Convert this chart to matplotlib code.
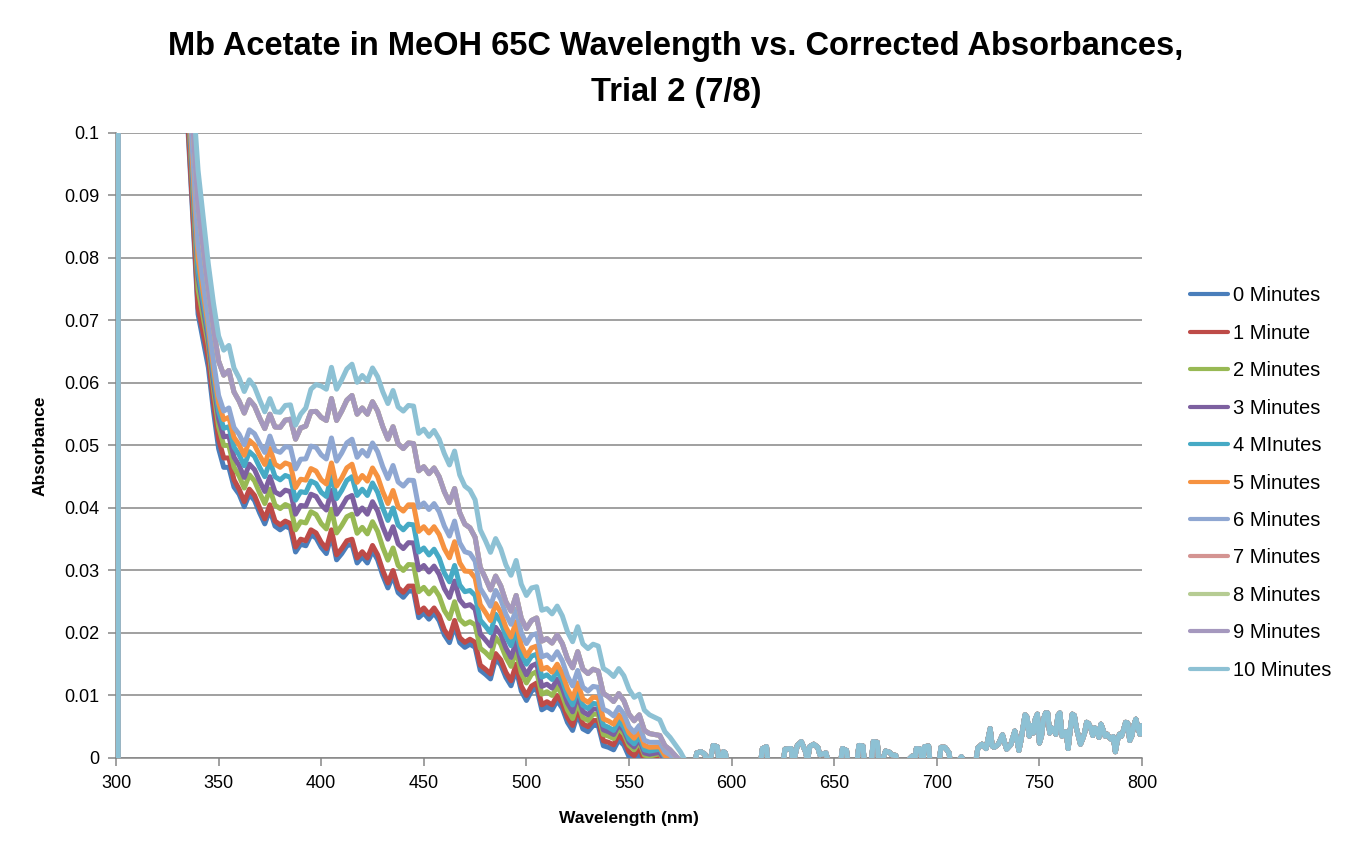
import matplotlib
matplotlib.use('Agg')
import matplotlib.pyplot as plt

# spectra: head below 335 nm (off scale), 335-575 nm read every 5 nm plus the
# dips in between (337.5-572.5 nm), tail 580-800 nm
head_wl = [301, 301.4, 310, 320, 330]
head_abs = [-0.05, 1.2, 0.6, 0.3, 0.15]

main_wl = list(range(335, 580, 5))
mid_wl = [w + 2.5 for w in range(335, 575, 5)]

min0 = [0.1010, 0.0710, 0.0625, 0.0495, 0.0465, 0.0422, 0.0422, 0.0392, 0.0397, 0.0365,
        0.0367, 0.0342, 0.0357, 0.0337, 0.0357, 0.0327, 0.0342, 0.0322, 0.0332, 0.0292,
        0.0292, 0.0257, 0.0267, 0.0232, 0.0232, 0.0197, 0.0212, 0.0177, 0.0177, 0.0134,
        0.0159, 0.0129, 0.0142, 0.0092, 0.0112, 0.0082, 0.0092, 0.0057, 0.0071, 0.0042,
        0.0052, 0.0017, 0.0029, 0.0002, 0.0009, -0.0013, -0.0008, -0.0023, -0.0033]
mid0 = [0.086, 0.06675, 0.0555, 0.0465, 0.04335, 0.0402, 0.0412, 0.03745, 0.0371, 0.0371,
        0.03295, 0.03395, 0.0352, 0.0327, 0.0317, 0.03395, 0.0312, 0.0312, 0.0317, 0.0272,
        0.02645, 0.0267, 0.02245, 0.0222, 0.02195, 0.01845, 0.01845, 0.0182, 0.01405, 0.01265,
        0.0149, 0.01155, 0.0107, 0.0107, 0.0077, 0.0077, 0.00795, 0.0044, 0.00465, 0.0052,
        0.00195, 0.0013, 0.00205, -0.00045, -0.0012, -0.00105, -0.00205, -0.0028]

min1 = [0.102, 0.072, 0.064, 0.051, 0.048, 0.043, 0.043, 0.040, 0.0405, 0.0373,
        0.0375, 0.035, 0.0365, 0.0345, 0.0365, 0.0335, 0.035, 0.033, 0.034, 0.030,
        0.030, 0.0265, 0.0275, 0.024, 0.024, 0.0205, 0.022, 0.0185, 0.0185, 0.0142,
        0.0167, 0.0137, 0.015, 0.010, 0.012, 0.009, 0.010, 0.0065, 0.0079, 0.005,
        0.006, 0.0025, 0.0037, 0.001, 0.0017, -0.0005, 0.0, -0.0015, -0.0025]
mid1 = [0.087, 0.068, 0.057, 0.048, 0.0445, 0.041, 0.042, 0.03825, 0.0379, 0.0379,
        0.03375, 0.03475, 0.036, 0.0335, 0.0325, 0.03475, 0.032, 0.032, 0.0325, 0.028,
        0.02725, 0.0275, 0.02325, 0.023, 0.02275, 0.01925, 0.01925, 0.019, 0.01485, 0.01345,
        0.0157, 0.01235, 0.0115, 0.0115, 0.0085, 0.0085, 0.00875, 0.0052, 0.00545, 0.006,
        0.00275, 0.0021, 0.00285, 0.00035, -0.0004, -0.00025, -0.00125, -0.002]

min2 = [0.105, 0.075, 0.066, 0.053, 0.050, 0.0451, 0.0453, 0.0424, 0.043, 0.0399,
        0.0402, 0.0378, 0.0394, 0.0375, 0.0398, 0.0372, 0.039, 0.0369, 0.0378, 0.0337,
        0.0336, 0.030, 0.0309, 0.0273, 0.0272, 0.0236, 0.025, 0.0214, 0.0213, 0.0169,
        0.0193, 0.0161, 0.0172, 0.012, 0.0138, 0.0106, 0.0114, 0.0077, 0.0089, 0.006,
        0.007, 0.0035, 0.0047, 0.002, 0.0026, 0.0003, 0.0007, -0.0009, -0.002]
mid2 = [0.090, 0.0705, 0.059, 0.050, 0.04655, 0.04318, 0.04433, 0.0407, 0.04045, 0.04055,
        0.0365, 0.0376, 0.03895, 0.03665, 0.036, 0.0386, 0.03595, 0.03585, 0.03625, 0.03165,
        0.0308, 0.03095, 0.0266, 0.02625, 0.0259, 0.0223, 0.02218, 0.0218, 0.01755, 0.01605,
        0.01818, 0.01465, 0.0136, 0.0134, 0.0102, 0.010, 0.01005, 0.0063, 0.00645, 0.007,
        0.00375, 0.0031, 0.00385, 0.0013, 0.00045, 0.0005, -0.0006, -0.00145]

min3 = [0.106, 0.077, 0.067, 0.0543, 0.0515, 0.0468, 0.047, 0.0443, 0.045, 0.0421,
        0.0426, 0.0404, 0.0422, 0.0405, 0.0428, 0.0402, 0.042, 0.040, 0.041, 0.037,
        0.037, 0.0335, 0.0344, 0.0308, 0.0307, 0.0271, 0.0283, 0.0243, 0.0238, 0.0189,
        0.0209, 0.0176, 0.0186, 0.0133, 0.0151, 0.0118, 0.0126, 0.0088, 0.010, 0.0069,
        0.0078, 0.0042, 0.0053, 0.0025, 0.003, 0.0006, 0.0009, -0.0008, -0.002]
mid3 = [0.0915, 0.072, 0.06013, 0.05138, 0.04813, 0.04488, 0.04613, 0.04263, 0.04255, 0.04285,
        0.039, 0.0403, 0.04185, 0.03967, 0.039, 0.04159, 0.039, 0.039, 0.0395, 0.035,
        0.03425, 0.03445, 0.0301, 0.02975, 0.02938, 0.02568, 0.0253, 0.02453, 0.01983, 0.0179,
        0.01973, 0.01608, 0.01497, 0.01472, 0.01145, 0.01118, 0.01118, 0.00738, 0.00743, 0.00785,
        0.0045, 0.00375, 0.0044, 0.00175, 0.0008, 0.00075, -0.00045, -0.0014]

min4 = [0.107, 0.078, 0.068, 0.0555, 0.053, 0.0485, 0.049, 0.0465, 0.0475, 0.0445,
        0.0449, 0.0426, 0.0443, 0.0425, 0.0452, 0.0428, 0.045, 0.043, 0.044, 0.040,
        0.040, 0.0365, 0.0373, 0.0336, 0.0334, 0.0296, 0.0308, 0.0266, 0.026, 0.0211,
        0.023, 0.0195, 0.0204, 0.015, 0.0166, 0.0133, 0.0139, 0.010, 0.011, 0.0079,
        0.0086, 0.0049, 0.0059, 0.003, 0.0035, 0.0011, 0.0014, -0.0003, -0.0015]
mid4 = [0.0925, 0.073, 0.06125, 0.05275, 0.04975, 0.04675, 0.04825, 0.045, 0.045, 0.0452,
        0.04125, 0.04245, 0.0439, 0.04184, 0.0415, 0.04442, 0.042, 0.042, 0.0425, 0.038,
        0.03725, 0.0374, 0.03295, 0.03248, 0.03198, 0.02818, 0.02768, 0.0268, 0.02205, 0.02003,
        0.02173, 0.01795, 0.0167, 0.0163, 0.01293, 0.01255, 0.0124, 0.00848, 0.00843, 0.00873,
        0.00525, 0.0044, 0.00495, 0.00225, 0.0013, 0.00125, 0.00005, -0.0009]

min5 = [0.108, 0.080, 0.069, 0.0568, 0.0545, 0.0501, 0.0508, 0.0484, 0.0495, 0.0465,
        0.0469, 0.0446, 0.0463, 0.0445, 0.0472, 0.0448, 0.047, 0.0452, 0.0464, 0.0426,
        0.0428, 0.0395, 0.0405, 0.037, 0.037, 0.0335, 0.0346, 0.0299, 0.0288, 0.0233,
        0.0247, 0.0209, 0.0218, 0.0163, 0.0179, 0.0145, 0.015, 0.0111, 0.012, 0.0089,
        0.0096, 0.0059, 0.0069, 0.004, 0.0043, 0.0017, 0.0018, -0.0001, -0.0015]
mid5 = [0.094, 0.0745, 0.06238, 0.05413, 0.0513, 0.04843, 0.05008, 0.04695, 0.047, 0.0472,
        0.04325, 0.04445, 0.0459, 0.04384, 0.0435, 0.04642, 0.0441, 0.0443, 0.045, 0.0407,
        0.04015, 0.0405, 0.03625, 0.036, 0.03575, 0.03203, 0.03123, 0.02983, 0.02453, 0.02198,
        0.02328, 0.01935, 0.01805, 0.0176, 0.01418, 0.01373, 0.01353, 0.00953, 0.00943, 0.00973,
        0.00625, 0.0054, 0.00595, 0.00315, 0.002, 0.00175, 0.00035, -0.0008]

min6 = [0.110, 0.082, 0.070, 0.058, 0.056, 0.0518, 0.0525, 0.0503, 0.0515, 0.0489,
        0.0497, 0.0478, 0.0499, 0.0485, 0.0512, 0.0488, 0.051, 0.0492, 0.0504, 0.0466,
        0.0468, 0.0435, 0.0444, 0.0408, 0.0407, 0.0371, 0.0379, 0.033, 0.0315, 0.0258,
        0.0268, 0.023, 0.0238, 0.0183, 0.0199, 0.0165, 0.017, 0.0131, 0.014, 0.0107,
        0.0113, 0.0074, 0.0081, 0.005, 0.0052, 0.0025, 0.0025, 0.0005, -0.001]
mid6 = [0.096, 0.076, 0.0635, 0.0555, 0.05288, 0.05013, 0.05188, 0.04888, 0.0492, 0.0498,
        0.04625, 0.04785, 0.0497, 0.04784, 0.0475, 0.05042, 0.0481, 0.0483, 0.049, 0.0447,
        0.04415, 0.04445, 0.0401, 0.03975, 0.0394, 0.0355, 0.03443, 0.03273, 0.02713, 0.02428,
        0.02538, 0.02138, 0.02007, 0.01962, 0.01618, 0.01573, 0.01553, 0.01153, 0.01133, 0.01145,
        0.0078, 0.00673, 0.00705, 0.0041, 0.00285, 0.0025, 0.001, -0.00025]

min9 = [0.114, 0.088, 0.075, 0.0635, 0.062, 0.0571, 0.0573, 0.0544, 0.055, 0.0529,
        0.0542, 0.0528, 0.0554, 0.0545, 0.0575, 0.0555, 0.058, 0.056, 0.057, 0.053,
        0.053, 0.0495, 0.0503, 0.0466, 0.0464, 0.0426, 0.0431, 0.0374, 0.0353, 0.0288,
        0.0291, 0.025, 0.026, 0.0207, 0.0224, 0.0191, 0.0197, 0.0159, 0.017, 0.0135,
        0.0139, 0.0098, 0.0103, 0.007, 0.0069, 0.0039, 0.0036, 0.0013, -0.0005]
mid9 = [0.101, 0.0815, 0.06875, 0.06125, 0.05855, 0.05518, 0.05633, 0.0527, 0.05295, 0.05405,
        0.051, 0.0531, 0.05545, 0.054, 0.054, 0.05725, 0.055, 0.055, 0.0555, 0.051,
        0.05025, 0.0504, 0.04595, 0.04548, 0.04498, 0.04085, 0.03925, 0.03683, 0.0305, 0.0269,
        0.02753, 0.0235, 0.02233, 0.022, 0.0187, 0.01838, 0.0183, 0.01443, 0.01423, 0.0142,
        0.01033, 0.00903, 0.00915, 0.00595, 0.0044, 0.00375, 0.00195, 0.0004]

# 7 and 8 Minutes are not visible: they sit under the 9 Minutes trace
min7, mid7 = min9, mid9
min8, mid8 = min9, mid9

min10 = [0.118, 0.094, 0.079, 0.0675, 0.066, 0.0608, 0.0605, 0.0573, 0.0575, 0.0553,
         0.0565, 0.055, 0.059, 0.0595, 0.0625, 0.0605, 0.063, 0.0612, 0.0624, 0.0586,
         0.0588, 0.0555, 0.0563, 0.0526, 0.0524, 0.0487, 0.0491, 0.0435, 0.0413, 0.0348,
         0.0351, 0.0309, 0.0316, 0.026, 0.0274, 0.0239, 0.0243, 0.0202, 0.021, 0.0175,
         0.0179, 0.0138, 0.0143, 0.011, 0.0102, 0.0069, 0.0061, 0.0033, 0.001]
mid10 = [0.106, 0.0865, 0.07275, 0.06525, 0.06238, 0.05863, 0.05938, 0.05538, 0.0554, 0.0564,
         0.05325, 0.056, 0.05975, 0.059, 0.059, 0.06225, 0.0601, 0.0603, 0.061, 0.0567,
         0.05615, 0.0564, 0.05193, 0.05145, 0.051, 0.04688, 0.04528, 0.04285, 0.0365, 0.0329,
         0.03345, 0.02923, 0.0278, 0.0272, 0.02363, 0.02305, 0.02273, 0.0186, 0.01825, 0.0182,
         0.01433, 0.01303, 0.01315, 0.0097, 0.00765, 0.0065, 0.0042, 0.00215]

# all traces overlap above 580 nm
tail_wl = [580, 582, 583, 585, 587, 588, 590, 591, 593, 594, 596, 597, 598, 605, 614,
           615, 617, 618, 625, 626, 629, 630, 632, 634, 636, 637, 638, 640, 642, 643,
           646, 648, 653, 654, 656, 657, 661, 662, 664, 665, 668, 669, 671, 672, 675,
           677, 678, 680, 681, 688, 689, 690, 692, 693, 694, 696, 697, 701, 702, 704,
           706, 707, 712, 714, 719, 720, 722, 723, 724, 726, 727, 728, 730, 732, 733,
           734, 736, 738, 739, 740, 741, 743, 744, 745, 746, 747, 748, 749, 750, 751,
           752, 753, 754, 755, 756, 757, 758, 759, 760, 761, 762, 763, 764, 765, 766,
           767, 768, 769, 770, 771, 772, 773, 774, 775, 776, 777, 778, 779, 780, 781,
           782, 783, 784, 785, 786, 787, 788, 789, 790, 791, 792, 793, 794, 795, 796,
           797, 798, 799, 800]
tail_abs = [-0.002, -0.001, 0.0008, 0.001, 0.0006, -0.001, 0.0003, 0.002, 0.0018, -0.001,
            0.001, 0.0008, -0.002, -0.003, -0.001, 0.0015, 0.0018, -0.002, -0.001, 0.0014,
            0.0015, -0.001, 0.002, 0.0026, 0.001, -0.0005, 0.0018, 0.0022, 0.0017, 0.0005,
            0.0008, -0.002, -0.001, 0.0015, 0.0012, -0.002, -0.001, 0.002, 0.0019, -0.002,
            -0.001, 0.0026, 0.0025, -0.002, 0.0011, 0.0009, 0.0005, 0.0004, -0.002, 0.0003,
            -0.001, 0.0015, 0.0014, -0.001, 0.0018, 0.0019, -0.002, -0.001, 0.0017, 0.0017,
            0.0008, -0.002, 0.0002, -0.001, -0.0005, 0.0016, 0.0022, 0.0018, 0.0015, 0.0047,
            0.0019, 0.0017, 0.0022, 0.0037, 0.0025, 0.0014, 0.0021, 0.0043, 0.003, 0.0012,
            0.0028, 0.0069, 0.0065, 0.0035, 0.0052, 0.004, 0.0062, 0.007, 0.0024, 0.0035,
            0.0062, 0.0072, 0.0072, 0.004, 0.0048, 0.0045, 0.0038, 0.0068, 0.0072, 0.0035,
            0.0038, 0.0042, 0.0015, 0.0045, 0.007, 0.0068, 0.0048, 0.0035, 0.0022, 0.003,
            0.004, 0.0057, 0.0055, 0.0048, 0.0036, 0.0048, 0.0045, 0.0033, 0.0054, 0.0045,
            0.0035, 0.0038, 0.0033, 0.003, 0.0034, 0.001, 0.0028, 0.0038, 0.0035, 0.0045,
            0.0057, 0.0056, 0.0028, 0.0035, 0.0052, 0.0062, 0.0048, 0.0038, 0.0052]

labels = ["0 Minutes", "1 Minute", "2 Minutes", "3 Minutes", "4 MInutes", "5 Minutes",
          "6 Minutes", "7 Minutes", "8 Minutes", "9 Minutes", "10 Minutes"]
mains = [min0, min1, min2, min3, min4, min5, min6, min7, min8, min9, min10]
mids = [mid0, mid1, mid2, mid3, mid4, mid5, mid6, mid7, mid8, mid9, mid10]
colors = ['#4A7EBB', '#BE4B48', '#98B954', '#7D60A0', '#46AAC5', '#F69240',
          '#8FA7D2', '#D49492', '#B6CC93', '#A598BE', '#8DC1D4']

plt.rcParams['font.family'] = ['Liberation Sans', 'DejaVu Sans']

fig = plt.figure(figsize=(13.52, 8.55), dpi=100)
ax = fig.add_axes([0.0858, 0.1135, 0.7589, 0.731])

for name, vals, dips, c in zip(labels, mains, mids, colors):
    pts = sorted(zip(main_wl + mid_wl, vals + dips))
    x = head_wl + [p[0] for p in pts] + tail_wl
    y = head_abs + [p[1] for p in pts] + tail_abs
    ax.plot(x, y, color=c, lw=3.6, label=name,
            solid_joinstyle='round', solid_capstyle='round')

ax.set_xlim(300, 800)
ax.set_ylim(0, 0.1)
ax.set_xticks(range(300, 801, 50))
yt = [i / 100 for i in range(11)]
ax.set_yticks(yt)
ax.set_yticklabels(['0'] + ['%g' % v for v in yt[1:]])
ax.yaxis.grid(True, color='#868686', lw=1.1)
ax.set_axisbelow(True)
for s in ['top', 'right']:
    ax.spines[s].set_visible(False)
for s in ['left', 'bottom']:
    ax.spines[s].set_color('#868686')
    ax.spines[s].set_linewidth(1.1)
    ax.spines[s].set_zorder(1)
ax.tick_params(direction='out', length=6, width=1.1, color='#868686',
               labelsize=13, labelcolor='black', pad=6)

ax.set_xlabel('Wavelength (nm)', fontsize=12.5, fontweight='bold', labelpad=14)
ax.set_ylabel('Absorbance', fontsize=12.5, fontweight='bold', labelpad=12)

fig.text(0.5, 1 - 46 / 855, 'Mb Acetate in MeOH 65C Wavelength vs. Corrected Absorbances,',
         ha='center', va='center', fontsize=23.5, fontweight='bold')
fig.text(0.5, 1 - 93 / 855, 'Trial 2 (7/8)',
         ha='center', va='center', fontsize=23.5, fontweight='bold')

leg = fig.legend(loc='upper left', bbox_to_anchor=(0.880, 0.665), frameon=False,
                 fontsize=14.5, handlelength=1.9, handletextpad=0.25, labelspacing=0.915,
                 borderpad=0, borderaxespad=0)
for h in leg.get_lines():
    h.set_linewidth(3.0)

fig.savefig('out.png', dpi=100)
